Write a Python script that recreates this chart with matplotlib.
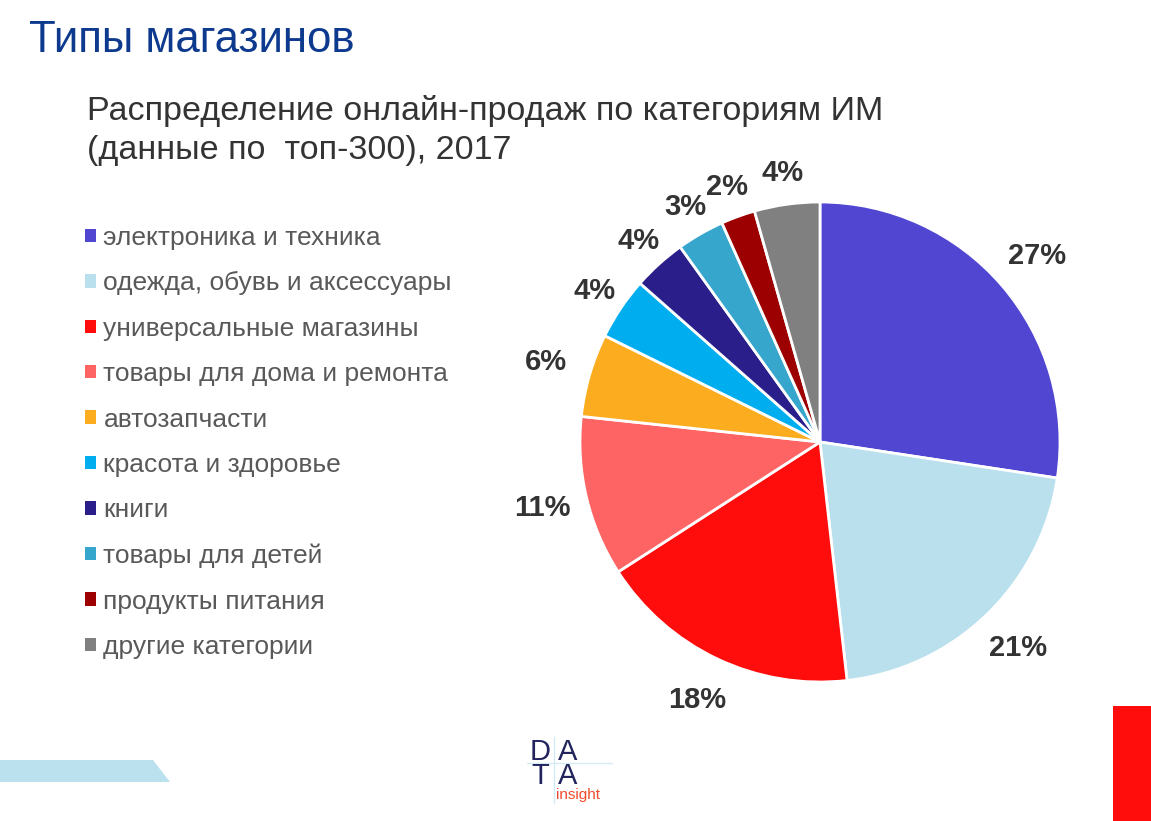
import matplotlib

matplotlib.use("Agg")
import matplotlib.pyplot as plt
import numpy as np
from matplotlib.patches import Polygon, Rectangle

plt.rcParams["font.family"] = ["Liberation Sans", "DejaVu Sans"]

W, H = 1151, 821

CATEGORIES = [
    "электроника и техника",
    "одежда, обувь и аксессуары",
    "универсальные магазины",
    "товары для дома и ремонта",
    "автозапчасти",
    "красота и здоровье",
    "книги",
    "товары для детей",
    "продукты питания",
    "другие категории",
]
SHARES = [27.4, 20.8, 17.7, 10.8, 5.6, 4.2, 3.6, 3.2, 2.3, 4.4]
LABELS = ["27%", "21%", "18%", "11%", "6%", "4%", "4%", "3%", "2%", "4%"]
COLORS = [
    "#5046D2", "#BAE0EE", "#FF0D0D", "#FF6464", "#FCAC1F",
    "#00AEEF", "#2A1F8A", "#37A6CD", "#9C0000", "#808080",
]

TITLE = "Типы магазинов"
SUBTITLE_LINES = ["Распределение онлайн-продаж по категориям ИМ", "(данные по  топ-300), 2017"]


def px(x, y):
    return x / W, 1 - y / H


fig = plt.figure(figsize=(W / 100, H / 100), dpi=100)

fig.text(*px(29, 40), TITLE, fontsize=31.5, color="#0D3A8E", va="center", ha="left")
for i, line in enumerate(SUBTITLE_LINES):
    fig.text(*px(87, 111 + 40 * i), line, fontsize=24.5, color="#333333",
             va="center", ha="left")

# pie
cx, cy, r = 820, 442, 240
ax = fig.add_axes([(cx - r) / W, (H - cy - r) / H, 2 * r / W, 2 * r / H])
wedges, _ = ax.pie(
    SHARES,
    colors=COLORS,
    startangle=90,
    counterclock=False,
    wedgeprops={"edgecolor": "white", "linewidth": 2},
)
# data labels: thin slices sit a little closer to the rim
for w, label, share in zip(wedges, LABELS, SHARES):
    mid = np.deg2rad((w.theta1 + w.theta2) / 2)
    dist = 1.19 if share >= 5 else 1.13
    ax.text(dist * np.cos(mid), dist * np.sin(mid), label, ha="center", va="center",
            fontsize=21, fontweight="bold", color="#333333")
ax.set_xlim(-1, 1)
ax.set_ylim(-1, 1)
ax.set_aspect("equal")
ax.axis("off")

leg = fig.legend(
    wedges, CATEGORIES,
    loc="upper left",
    bbox_to_anchor=px(85, 226),
    borderaxespad=0,
    borderpad=0,
    frameon=False,
    fontsize=19,
    handlelength=0.4,
    handleheight=0.4,
    handletextpad=0.3,
    labelspacing=0.81,
)
for t in leg.get_texts():
    t.set_color("#595959")
for h in leg.legend_handles:
    h.set_edgecolor("none")

# decorations
fig.patches.append(Polygon(
    [px(0, 760), px(153, 760), px(170, 782), px(0, 782)],
    closed=True, transform=fig.transFigure, facecolor="#BCE1EE", edgecolor="none"))
fig.patches.append(Rectangle(
    px(1113, 821), 38 / W, 115 / H,
    transform=fig.transFigure, facecolor="#FF0D0D", edgecolor="none"))

# logo
fig.add_artist(plt.Line2D([527 / W, 612 / W], [1 - 763 / H] * 2, color="#D6ECF5", lw=1))
fig.add_artist(plt.Line2D([554 / W, 554 / W], [1 - 737 / H, 1 - 803 / H], color="#D6ECF5", lw=1))
for x, s in [(540, "D\nT"), (568, "A\nA")]:
    fig.text(*px(x, 764), s, fontsize=21, color="#23235E", ha="center", va="center",
             linespacing=0.78)
fig.text(*px(556, 795), "insight", fontsize=11, color="#F04A2A", ha="left", va="center")

fig.savefig("out.png", dpi=100)
